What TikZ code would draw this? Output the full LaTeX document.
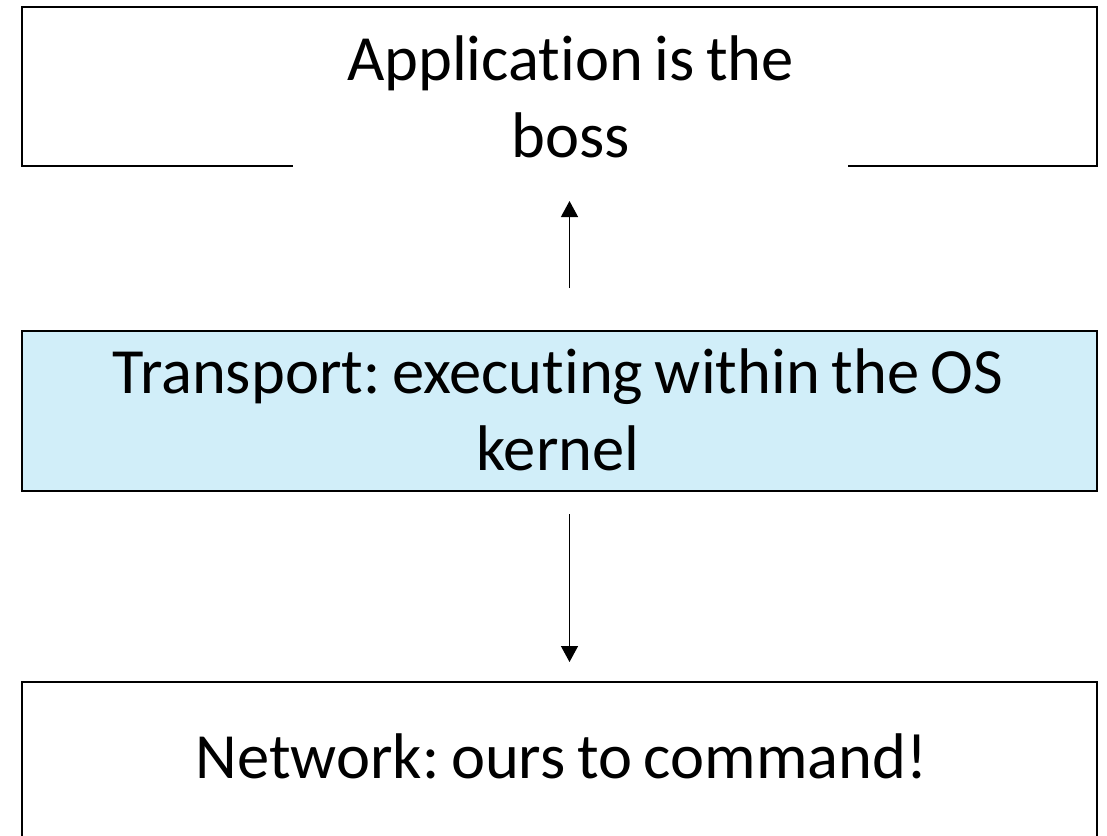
\documentclass[tikz,border=0pt]{standalone}
\usepackage{fontspec}
\setmainfont{Carlito}[Ligatures={NoCommon}, WordSpace=0.8]
\usetikzlibrary{arrows.meta}
\definecolor{layerblue}{RGB}{209,238,249}
\frenchspacing
\tikzset{
  layerbox/.style={draw=black, line width=2pt, inner sep=0pt, anchor=north west},
  bigtext/.style={font=\fontsize{64.5}{77}\selectfont, align=center, inner sep=0pt},
  flow/.style={line width=1.3pt, -{Triangle[length=16pt,width=17pt]}}
}
\begin{document}
\begin{tikzpicture}[x=1pt,y=-1pt]
  \useasboundingbox (0,0) rectangle (1107,835);
  % application layer: frame with its caption laid over the lower edge
  \node[layerbox, minimum width=1075pt, minimum height=159pt] (app) at (21,6) {};
  \node[bigtext, fill=white, minimum width=555pt, inner ysep=14pt, anchor=base] (apptxt) at (570.5,157) {Application is the\\boss};
  % transport layer, shaded
  \node[layerbox, fill=layerblue, minimum width=1075pt, minimum height=160pt] (trans) at (21,330) {};
  \node[bigtext, anchor=base] (transtxt) at (558,470) {Transport: executing within the OS\\kernel};
  % network layer, running off the lower edge
  \node[layerbox, minimum width=1075pt, minimum height=220pt] (net) at (21,681) {};
  \node[bigtext, anchor=base] (nettxt) at (561.5,778) {Network: ours to command!};
  % control flow between the layers
  \draw[flow, shorten <=42pt, shorten >=34pt] (trans.north -| 569.5,0) -- (app.south -| 569.5,0);
  \draw[flow, shorten <=22pt, shorten >=19pt] (trans.south -| 569.5,0) -- (net.north -| 569.5,0);
\end{tikzpicture}
\end{document}
